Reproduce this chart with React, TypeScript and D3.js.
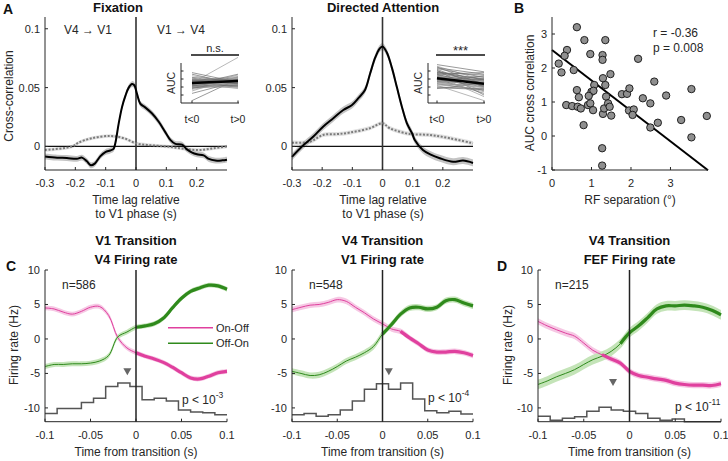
import React from "react";
import * as d3 from "d3";

// ---------------- Panel A data ----------------
const fixSolidLag = [-0.3,-0.26,-0.228,-0.195,-0.178,-0.162,-0.149,-0.136,-0.118,-0.101,-0.085,-0.074,-0.068,-0.057,-0.046,-0.035,-0.024,-0.013,-0.0055,0.003,0.014,0.031,0.053,0.075,0.097,0.113,0.13,0.152,0.168,0.185,0.201,0.223,0.24,0.262,0.284,0.3];
const fixSolidCC = [-0.0085,-0.0095,-0.0098,-0.0105,-0.0095,-0.0126,-0.016,-0.0146,-0.0084,-0.0048,-0.0034,-0.002,0.003,0.0196,0.0336,0.043,0.05,0.053,0.052,0.045,0.0364,0.033,0.028,0.021,0.012,0.0056,0.0022,0.0015,-0.0025,-0.0052,-0.0066,-0.0076,-0.0106,-0.012,-0.0118,-0.0112];
const fixDotLag = [-0.3,-0.21,-0.19,-0.146,-0.084,-0.04,0,0.036,0.08,0.124,0.168,0.212,0.256,0.3];
const fixDotCC = [-0.003,0,0.0032,0.007,0.0089,0.007,0.0027,0.0013,0.0004,-0.0007,-0.0024,-0.003,-0.0015,0];
const daSolidLag = [-0.3,-0.267,-0.23,-0.197,-0.163,-0.13,-0.102,-0.08,-0.058,-0.041,-0.024,-0.01,0,0.014,0.031,0.048,0.064,0.081,0.098,0.107,0.134,0.16,0.19,0.234,0.267,0.3];
const daSolidCC = [-0.0088,0,0.0082,0.0168,0.024,0.031,0.035,0.041,0.048,0.062,0.0756,0.083,0.085,0.08,0.067,0.05,0.034,0.0196,0.0112,0.0055,-0.003,-0.007,-0.01,-0.013,-0.012,-0.014];
const daDotLag = [-0.3,-0.24,-0.197,-0.15,-0.108,-0.042,0,0.024,0.09,0.157,0.223,0.3];
const daDotCC = [0.0032,0.004,0.0098,0.0105,0.0118,0.0155,0.0197,0.0155,0.0106,0.0098,0.007,0.0027];
const semFixSolid = 0.0025;
const semFixDot = 0.0015;
const semDaSolid = 0.003;
const semDaDot = 0.0018;
const lagTicks = [-0.3, -0.2, -0.1, 0, 0.1, 0.2];
const ccTicks = [0, 0.05, 0.1];

// insets (AUC, t<0 vs t>0)
const insetFixPre = [2.5,2.2,2.8,3.4,1.8,2.6,3.0,2.0,2.4,1.5,2.9,3.6,2.3,2.7,1.9,2.1,3.2,0.3,2.5,2.6,2.2,2.8,1.2,3.1,2.4,2.0,2.7,1.7,2.9,2.3,2.5,3.8,2.1,2.6,2.8];
const insetFixPost = [2.7,3.0,2.4,2.6,2.9,3.2,2.2,2.5,2.0,3.3,3.0,2.3,2.8,2.1,2.3,3.5,2.8,3.0,5.7,2.5,2.2,3.3,2.7,2.5,3.1,2.0,2.7,2.6,2.4,3.6,1.8,2.6,2.9,2.3,2.9];
const insetFixMean = [2.5, 2.75];
const insetDaPre = [4.6,4.2,3.8,3.5,2.8,2.5,3.3,2.0,3.9,2.2,3.0,4.4,2.7,3.6,1.8,3.2,2.4,4.0,3.4,2.9,3.7,2.6,3.1,4.8,2.3,3.5,4.1,2.1,3.0,3.8,2.8,3.3,4.3,2.5,3.6,1.9,3.2,4.5,2.7];
const insetDaPost = [2.8,2.0,3.5,1.5,2.2,3.0,2.6,1.8,2.9,0.3,1.2,3.6,2.8,2.1,2.5,3.3,1.6,2.4,0.8,2.9,2.7,1.9,3.1,3.9,2.3,2.5,1.0,2.6,2.0,3.0,1.4,2.2,3.2,2.0,3.8,1.7,2.7,2.3,3.4];
const insetDaMean = [3.1, 2.4];

// ---------------- Panel B data ----------------
const rfSep = [0.63,0.82,1.35,0.38,0.32,0.97,1.28,1.28,2.18,0.17,0.24,0.55,1.48,1.29,2.59,1.35,1.07,0.63,1.0,1.05,0.68,0.93,1.37,1.77,1.9,1.96,2.3,2.89,3.53,0.36,0.51,0.65,0.73,0.91,0.97,1.04,1.29,1.32,1.42,1.46,1.5,1.95,2.07,2.04,2.49,2.49,2.68,3.27,3.92,0.8,3.53,1.27,1.27];
const aucCC = [3.2,2.82,2.82,2.53,2.36,2.41,2.38,2.24,2.27,2.13,1.87,1.94,1.82,1.7,1.6,1.5,1.5,1.35,1.3,1.33,1.14,1.18,1.16,1.23,1.24,1.4,1.11,1.19,1.38,0.91,0.88,0.86,0.81,0.91,0.96,0.76,0.65,0.81,0.96,0.86,0.6,0.75,0.78,0.62,0.96,0.25,0.39,0.47,0.59,0.32,-0.04,-0.36,-0.87];
const fitIntercept = 2.53;
const fitSlope = -0.895;
const rfTicks = [0, 1, 2, 3];
const aucTicks = [-1, 0, 1, 2, 3];

// ---------------- Panels C / D data ----------------
const tTime = [-0.1,-0.09,-0.08,-0.07,-0.06,-0.05,-0.04,-0.03,-0.02,-0.01,0,0.01,0.02,0.03,0.04,0.05,0.06,0.07,0.08,0.09,0.1];
const c1OnOff = [4.5,4.35,3.9,3.6,4.0,4.6,4.7,3.4,0.2,-1.3,-2.0,-2.5,-2.9,-3.4,-4.1,-4.9,-5.65,-5.8,-5.4,-4.9,-4.7];
const c1OffOn = [-4.0,-3.7,-3.7,-3.6,-3.6,-3.5,-3.2,-2.4,0.3,1.0,1.7,1.9,2.2,3.0,4.5,5.9,6.9,7.4,7.8,7.7,7.2];
const c2OnOff = [4.25,4.6,4.9,5.0,5.3,5.7,5.45,4.6,3.8,2.9,2.2,1.45,1.1,0.15,-0.7,-1.6,-1.9,-1.9,-1.8,-2.0,-2.4];
const c2OffOn = [-4.7,-5.0,-5.3,-5.2,-4.7,-4.0,-3.2,-2.65,-2.0,-1.1,0.7,2.1,3.6,4.5,4.6,4.35,4.6,5.55,5.7,5.2,4.8];
const dOnOff = [2.55,1.9,1.35,0.85,0.4,-0.6,-1.65,-2.3,-2.9,-3.5,-4.7,-5.3,-5.55,-5.8,-6.0,-6.4,-6.6,-6.7,-6.7,-6.75,-6.5];
const dOffOn = [-6.6,-6.1,-5.5,-5.0,-4.45,-3.7,-3.0,-2.5,-1.8,-0.7,0.9,1.9,3.1,4.35,4.8,4.8,4.9,4.8,4.6,4.15,3.5];
const c1Hist = [-10.8,-10.1,-10.1,-9.2,-8.6,-6.9,-6.4,-6.9,-8.8,-8.6,-9.0,-10.3,-10.6,-10.7,-11.0];
const c2Hist = [-11.0,-10.8,-11.2,-11.0,-10.3,-9.0,-7.3,-6.5,-7.3,-6.4,-8.7,-10.4,-10.7,-10.5,-10.9];
const dHist = [-11.2,-11.8,-11.5,-11.3,-10.5,-9.9,-10.3,-10.5,-10.8,-11.5,-11.8,-11.6,-12,-12,-12];
const peakMarker = [{ t: -0.0095, v: -4.75 }, { t: 0.007, v: -4.75 }, { t: -0.018, v: -6.3 }];
const sigStart = [{ on: 0, off: 0 }, { on: 0.02, off: 0.0 }, { on: -0.03, off: -0.01 }];
const semOnOff = [0.35, 0.4, 0.45];
const semOffOn = [0.35, 0.45, 0.7];
const tTicks = [-0.1, -0.05, 0, 0.05, 0.1];
const frTicks = [-10, -5, 0, 5, 10];
const nLabels = ["n=586", "n=548", "n=215"];
const pExp = ["-3", "-4", "-11"];
const cTitles = [["V1 Transition", "V4 Firing rate"], ["V4 Transition", "V1 Firing rate"], ["V4 Transition", "FEF Firing rate"]];

const F = "Liberation Sans, Arial, Helvetica, sans-serif";
const AX = "#262626";
const PINK = "#e0409e";
const PINK_BAND = "#f6c8e4";
const GREEN = "#2f8a1c";
const GREEN_BAND = "#c4e4b8";

type Scale = d3.ScaleLinear<number, number>;

function XAxis({ x, y, ticks, fmt }: { x: Scale; y: number; ticks: number[]; fmt: (v: number) => string }) {
  const [r0, r1] = x.range();
  return (
    <g>
      <line x1={r0} x2={r1} y1={y} y2={y} stroke={AX} strokeWidth={1} />
      {ticks.map((t, i) => (
        <g key={i}>
          <line x1={x(t)} x2={x(t)} y1={y} y2={y - 3} stroke={AX} />
          <text x={x(t)} y={y + 17} textAnchor="middle" fontSize={11} fill={AX} fontFamily={F}>{fmt(t)}</text>
        </g>
      ))}
    </g>
  );
}

function YAxis({ y, x, ticks, fmt, labels = true }: { y: Scale; x: number; ticks: number[]; fmt: (v: number) => string; labels?: boolean }) {
  const [r0, r1] = y.range();
  return (
    <g>
      <line x1={x} x2={x} y1={r0} y2={r1} stroke={AX} strokeWidth={1} />
      {ticks.map((t, i) => (
        <g key={i}>
          <line x1={x} x2={x + 3} y1={y(t)} y2={y(t)} stroke={AX} />
          {labels && (
            <text x={x - 5} y={y(t) + 4} textAnchor="end" fontSize={11} fill={AX} fontFamily={F}>{fmt(t)}</text>
          )}
        </g>
      ))}
    </g>
  );
}

function CCPanel({ x, y, solidLag, solidCC, dotLag, dotCC, semS, semD }: any) {
  const curve = d3.curveCatmullRom.alpha(0.5);
  const sData = solidLag.map((t: number, i: number) => [t, solidCC[i]]);
  const dData = dotLag.map((t: number, i: number) => [t, dotCC[i]]);
  const area = (sem: number) =>
    d3.area<number[]>().x((d) => x(d[0])).y0((d) => y(d[1] - sem)).y1((d) => y(d[1] + sem)).curve(curve);
  const line = d3.line<number[]>().x((d) => x(d[0])).y((d) => y(d[1])).curve(curve);
  const [x0, x1] = x.range();
  const [yb, yt] = y.range();
  return (
    <g>
      <path d={area(semD)(dData) || ""} fill="#e2e2e2" />
      <path d={area(semS)(sData) || ""} fill="#c4c4c4" />
      <line x1={x0} x2={x1} y1={y(0)} y2={y(0)} stroke="#111" strokeWidth={1.2} />
      <line x1={x(0)} x2={x(0)} y1={yb} y2={yt} stroke="#333" strokeWidth={1.6} />
      <path d={line(dData) || ""} fill="none" stroke="#7a7a7a" strokeWidth={2} strokeDasharray="2,1.6" />
      <path d={line(sData) || ""} fill="none" stroke="#000" strokeWidth={2} />
    </g>
  );
}

function Inset({ axisX, x0, x1, pre, post, mean, label }: any) {
  const yI = d3.scaleLinear().domain([0, 5]).range([103, 63]);
  const xI = d3.scaleLinear().domain([0, 1]).range([x0, x1]);
  return (
    <g>
      <line x1={axisX} x2={axisX} y1={63} y2={103} stroke={AX} />
      <line x1={axisX} x2={x1 + 1} y1={103} y2={103} stroke={AX} />
      {[1, 2, 3, 4].map((t) => (
        <line key={t} x1={axisX} x2={axisX + 2.5} y1={yI(t)} y2={yI(t)} stroke={AX} />
      ))}
      {[0, 1].map((t) => (
        <line key={t} x1={xI(t)} x2={xI(t)} y1={103} y2={100.5} stroke={AX} />
      ))}
      {pre.map((p: number, i: number) => (
        <line key={i} x1={xI(0)} x2={xI(1)} y1={yI(p)} y2={yI(post[i])} stroke={i % 3 === 0 ? "#9a9a9a" : "#6f6f6f"} strokeOpacity={0.7} strokeWidth={1} />
      ))}
      <line x1={xI(0)} x2={xI(1)} y1={yI(mean[0])} y2={yI(mean[1])} stroke="#000" strokeWidth={2.4} />
      <line x1={x0 - 1} x2={x1 + 1} y1={55} y2={55} stroke="#111" strokeWidth={1.6} />
      <text x={(x0 + x1) / 2} y={label === "***" ? 55 : 52} textAnchor="middle" fontSize={label === "***" ? 13 : 11} fill={AX} fontFamily={F}>{label}</text>
      <text transform={`translate(${axisX - 6},83) rotate(-90)`} textAnchor="middle" fontSize={10.5} fill={AX} fontFamily={F}>AUC</text>
      <text x={xI(0)} y={123} textAnchor="middle" fontSize={10.5} fill={AX} fontFamily={F}>t&lt;0</text>
      <text x={xI(1)} y={123} textAnchor="middle" fontSize={10.5} fill={AX} fontFamily={F}>t&gt;0</text>
    </g>
  );
}

function FRPanel({ x, y, idx, onOff, offOn, hist, yLabels }: any) {
  const curve = d3.curveCatmullRom.alpha(0.5);
  const on = tTime.map((t, i) => [t, onOff[i]]);
  const off = tTime.map((t, i) => [t, offOn[i]]);
  const area = (sem: number) =>
    d3.area<number[]>().x((d) => x(d[0])).y0((d) => y(d[1] - sem)).y1((d) => y(d[1] + sem)).curve(curve);
  const line = d3.line<number[]>().x((d) => x(d[0])).y((d) => y(d[1])).curve(curve);
  const st = sigStart[idx];
  const onSig = on.filter((d) => d[0] >= st.on - 1e-9);
  const offSig = off.filter((d) => d[0] >= st.off - 1e-9);
  const bw = (x.domain()[1] - x.domain()[0]) / hist.length;
  const hPts = hist.map((v: number, i: number) => [x.domain()[0] + i * bw, v]);
  hPts.push([x.domain()[1], hist[hist.length - 1]]);
  const step = d3.line<number[]>().x((d) => x(d[0])).y((d) => y(d[1])).curve(d3.curveStepAfter);
  const [x0, x1] = x.range();
  const cx = (x0 + x1) / 2;
  const mk = peakMarker[idx];
  const mx = x(mk.t), my = y(mk.v);
  return (
    <g>
      <path d={step(hPts) || ""} fill="none" stroke="#555" strokeWidth={1.5} />
      <path d={area(semOnOff[idx])(on) || ""} fill={PINK_BAND} />
      <path d={area(semOffOn[idx])(off) || ""} fill={GREEN_BAND} />
      <path d={line(on) || ""} fill="none" stroke={PINK} strokeWidth={1} />
      <path d={line(off) || ""} fill="none" stroke={GREEN} strokeWidth={1} />
      <path d={line(onSig) || ""} fill="none" stroke={PINK} strokeWidth={3.2} />
      <path d={line(offSig) || ""} fill="none" stroke={GREEN} strokeWidth={3.2} />
      <line x1={x(0)} x2={x(0)} y1={y.range()[0]} y2={y.range()[1]} stroke="#222" strokeWidth={1.5} />
      <path d={`M${mx - 4},${my - 3.5}L${mx + 4},${my - 3.5}L${mx},${my + 3.5}Z`} fill="#666" />
      <XAxis x={x} y={y.range()[0]} ticks={tTicks} fmt={(v) => String(v)} />
      <YAxis y={y} x={x0} ticks={frTicks} fmt={(v) => String(v)} labels={yLabels} />
      <text x={x0 + 17} y={289} fontSize={12} fill={AX} fontFamily={F}>{nLabels[idx]}</text>
      <text x={cx} y={245} textAnchor="middle" fontSize={13} fontWeight="bold" fill="#111" fontFamily={F}>{cTitles[idx][0]}</text>
      <text x={cx} y={263.5} textAnchor="middle" fontSize={13} fontWeight="bold" fill="#111" fontFamily={F}>{cTitles[idx][1]}</text>
      <text x={cx} y={456} textAnchor="middle" fontSize={12} fill={AX} fontFamily={F}>Time from transition (s)</text>
    </g>
  );
}

export default function App() {
  const xA1 = d3.scaleLinear().domain([-0.3, 0.3]).range([45, 227]);
  const xA2 = d3.scaleLinear().domain([-0.3, 0.3]).range([292, 473]);
  const yA = d3.scaleLinear().domain([-0.02, 0.11]).range([170, 17]);
  const xB = d3.scaleLinear().domain([0, 3.95]).range([552, 708]);
  const yB = d3.scaleLinear().domain([-1, 3.5]).range([170, 17]);
  const yC = d3.scaleLinear().domain([-12, 10]).range([421.7, 270]);
  const xC1 = d3.scaleLinear().domain([-0.1, 0.1]).range([45, 227]);
  const xC2 = d3.scaleLinear().domain([-0.1, 0.1]).range([292, 473]);
  const xD = d3.scaleLinear().domain([-0.1, 0.1]).range([538, 721]);
  const ccFmt = (v: number) => (v === 0 ? "0" : String(v));
  const fitX = xB.domain();

  return (
    <svg width={728} height={461} style={{ position: "absolute", left: 0, top: 0, background: "#fff" }} fontFamily={F}>
      <rect width={728} height={461} fill="#fff" />
      {/* Panel letters */}
      <text x={3} y={14} fontSize={14} fontWeight="bold" fill="#111">A</text>
      <text x={514} y={13} fontSize={14} fontWeight="bold" fill="#111">B</text>
      <text x={6} y={271} fontSize={14} fontWeight="bold" fill="#111">C</text>
      <text x={497} y={271} fontSize={14} fontWeight="bold" fill="#111">D</text>

      {/* Panel A - Fixation */}
      <CCPanel x={xA1} y={yA} solidLag={fixSolidLag} solidCC={fixSolidCC} dotLag={fixDotLag} dotCC={fixDotCC} semS={semFixSolid} semD={semFixDot} />
      <XAxis x={xA1} y={170} ticks={lagTicks} fmt={(v) => String(v)} />
      <YAxis y={yA} x={45} ticks={ccTicks} fmt={ccFmt} />
      <text x={118} y={12} textAnchor="middle" fontSize={13} fontWeight="bold" fill="#111">Fixation</text>
      <text x={88} y={34} textAnchor="middle" fontSize={12} fill={AX}>V4 → V1</text>
      <text x={181} y={34} textAnchor="middle" fontSize={12} fill={AX}>V1 → V4</text>
      <text transform="translate(13,96) rotate(-90)" textAnchor="middle" fontSize={12} fill={AX}>Cross-correlation</text>
      <text x={136} y={204} textAnchor="middle" fontSize={12} fill={AX}>Time lag relative</text>
      <text x={136} y={218} textAnchor="middle" fontSize={12} fill={AX}>to V1 phase (s)</text>
      <Inset axisX={181} x0={192} x1={238} pre={insetFixPre} post={insetFixPost} mean={insetFixMean} label="n.s." />

      {/* Panel A - Directed attention */}
      <CCPanel x={xA2} y={yA} solidLag={daSolidLag} solidCC={daSolidCC} dotLag={daDotLag} dotCC={daDotCC} semS={semDaSolid} semD={semDaDot} />
      <XAxis x={xA2} y={170} ticks={lagTicks} fmt={(v) => String(v)} />
      <YAxis y={yA} x={292} ticks={ccTicks} fmt={ccFmt} />
      <text x={383} y={12} textAnchor="middle" fontSize={13} fontWeight="bold" fill="#111">Directed Attention</text>
      <text x={383} y={204} textAnchor="middle" fontSize={12} fill={AX}>Time lag relative</text>
      <text x={383} y={218} textAnchor="middle" fontSize={12} fill={AX}>to V1 phase (s)</text>
      <Inset axisX={428} x0={437} x1={484} pre={insetDaPre} post={insetDaPost} mean={insetDaMean} label="***" />

      {/* Panel B */}
      <line x1={xB(fitX[0])} y1={yB(fitIntercept + fitSlope * fitX[0])} x2={xB(fitX[1])} y2={yB(fitIntercept + fitSlope * fitX[1])} stroke="#000" strokeWidth={2} />
      {rfSep.map((s, i) => (
        <circle key={i} cx={xB(s)} cy={yB(aucCC[i])} r={3.7} fill="#8f8f8f" stroke="#111" strokeWidth={0.9} />
      ))}
      <XAxis x={xB} y={170} ticks={rfTicks} fmt={(v) => String(v)} />
      <YAxis y={yB} x={552} ticks={aucTicks} fmt={(v) => String(v)} />
      <text x={653} y={37} fontSize={12} fill={AX}>r = -0.36</text>
      <text x={653} y={52} fontSize={12} fill={AX}>p = 0.008</text>
      <text transform="translate(534,93) rotate(-90)" textAnchor="middle" fontSize={12} fill={AX}>AUC cross correlation</text>
      <text x={630} y={204} textAnchor="middle" fontSize={12} fill={AX}>RF separation (°)</text>

      {/* Panels C and D */}
      <FRPanel x={xC1} y={yC} idx={0} onOff={c1OnOff} offOn={c1OffOn} hist={c1Hist} yLabels={true} />
      <FRPanel x={xC2} y={yC} idx={1} onOff={c2OnOff} offOn={c2OffOn} hist={c2Hist} yLabels={true} />
      <FRPanel x={xD} y={yC} idx={2} onOff={dOnOff} offOn={dOffOn} hist={dHist} yLabels={true} />
      <text transform="translate(18,345) rotate(-90)" textAnchor="middle" fontSize={12} fill={AX}>Firing rate (Hz)</text>
      <text transform="translate(512,345) rotate(-90)" textAnchor="middle" fontSize={12} fill={AX}>Firing rate (Hz)</text>

      {/* legend */}
      <line x1={168} x2={213} y1={327.7} y2={327.7} stroke={PINK} strokeWidth={1.5} />
      <text x={216} y={331.5} fontSize={11} fill={AX}>On-Off</text>
      <line x1={168} x2={213} y1={343.3} y2={343.3} stroke={GREEN} strokeWidth={1.5} />
      <text x={216} y={347} fontSize={11} fill={AX}>Off-On</text>

      {/* p values */}
      {[{ x: 182, y: 404 }, { x: 428, y: 402 }, { x: 675, y: 411 }].map((p, i) => (
        <text key={i} x={p.x} y={p.y} fontSize={12} fill={AX}>
          p &lt; 10<tspan dy={-6} fontSize={8.5}>{pExp[i]}</tspan>
        </text>
      ))}
    </svg>
  );
}
